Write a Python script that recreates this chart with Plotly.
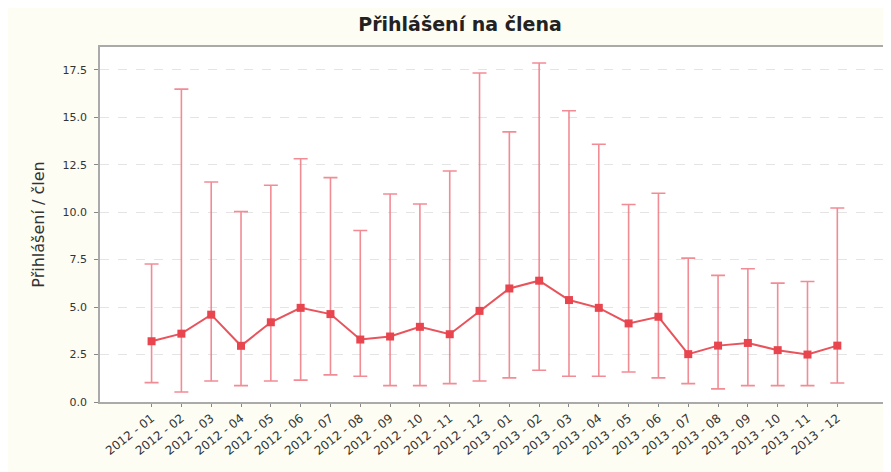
import plotly.graph_objects as go

months = ["2012 - 01", "2012 - 02", "2012 - 03", "2012 - 04", "2012 - 05", "2012 - 06",
          "2012 - 07", "2012 - 08", "2012 - 09", "2012 - 10", "2012 - 11", "2012 - 12",
          "2013 - 01", "2013 - 02", "2013 - 03", "2013 - 04", "2013 - 05", "2013 - 06",
          "2013 - 07", "2013 - 08", "2013 - 09", "2013 - 10", "2013 - 11", "2013 - 12"]
mean_vals = [3.2, 3.6, 4.6, 2.96, 4.2, 4.96, 4.63, 3.29, 3.45, 3.96, 3.57, 4.8,
             5.98, 6.39, 5.37, 4.96, 4.14, 4.49, 2.52, 2.97, 3.11, 2.73, 2.5, 2.97]
upper_vals = [7.27, 16.48, 11.59, 10.03, 11.42, 12.81, 11.82, 9.03, 10.96, 10.43, 12.17, 17.33,
              14.23, 17.86, 15.34, 13.58, 10.4, 11.0, 7.58, 6.67, 7.02, 6.26, 6.35, 10.22]
lower_vals = [1.02, 0.53, 1.11, 0.86, 1.11, 1.15, 1.43, 1.36, 0.86, 0.86, 0.97, 1.11,
              1.27, 1.67, 1.36, 1.36, 1.58, 1.27, 0.97, 0.69, 0.86, 0.86, 0.86, 1.0]

err_plus = [u - m for u, m in zip(upper_vals, mean_vals)]
err_minus = [m - l for m, l in zip(mean_vals, lower_vals)]
xi = list(range(len(months)))

fig = go.Figure()
fig.add_trace(go.Scatter(
    x=xi, y=mean_vals, mode="lines+markers",
    line=dict(color="#e8535c", width=2),
    marker=dict(symbol="square", size=8, color="#e8454f"),
    error_y=dict(type="data", symmetric=False, array=err_plus, arrayminus=err_minus,
                 color="rgba(238,120,130,0.85)", thickness=1.6, width=7),
    showlegend=False,
))

fig.update_layout(
    width=891, height=472,
    margin=dict(l=92, r=11, t=39, b=78),
    paper_bgcolor="#fdfdf3",
    plot_bgcolor="#ffffff",
    font=dict(family="DejaVu Sans", size=10, color="#333333"),
    title=dict(text="<b>Přihlášení na člena</b>", x=452/891, xref="container", xanchor="center",
               y=1 - 16/472, yref="container", yanchor="middle",
               font=dict(family="DejaVu Sans", size=19, color="#222222")),
)
fig.update_xaxes(
    range=[-1.73, 24.7], tickmode="array", tickvals=xi, ticktext=months, tickangle=-38,
    showgrid=False, zeroline=False, showline=True, linecolor="#aaaaaa", linewidth=1.5, mirror=True,
    ticks="outside", ticklen=3, tickcolor="#888888", tickfont=dict(size=12, color="#333333"),
    automargin=False,
)
fig.update_yaxes(
    range=[0, 18.7], tickmode="array", tickvals=[0, 2.5, 5, 7.5, 10, 12.5, 15, 17.5],
    ticktext=["0.0", "2.5", "5.0", "7.5", "10.0", "12.5", "15.0", "17.5"],
    showgrid=True, gridcolor="#e4e4e4", griddash="dash", gridwidth=1,
    zeroline=False, showline=True, linecolor="#aaaaaa", linewidth=1.5, mirror=True,
    ticks="outside", ticklen=4, tickcolor="#888888", tickfont=dict(size=11, color="#333333"),
    ticklabelstandoff=5, automargin=False,
    title=dict(text="Přihlášení / člen", font=dict(size=16, color="#333333"), standoff=14),
)

fig.write_html("out.html")
